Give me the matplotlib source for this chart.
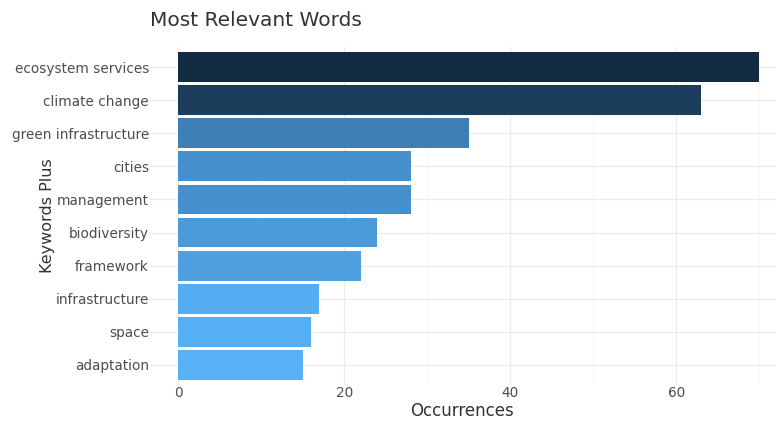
import matplotlib
matplotlib.use("Agg")
import matplotlib.pyplot as plt
import matplotlib.colors as mcolors
import numpy as np

# data
words = ["ecosystem services", "climate change", "green infrastructure", "cities",
         "management", "biodiversity", "framework", "infrastructure", "space", "adaptation"]
counts = [70, 63, 35, 28, 28, 24, 22, 17, 16, 15]
xticks = [0, 20, 40, 60]

# ggplot style gradient, dark for high values
cmap = mcolors.LinearSegmentedColormap.from_list("gg", ["#56B1F7", "#132B43"])
norm = mcolors.Normalize(vmin=min(counts), vmax=max(counts))
colors = [cmap(norm(c)) for c in counts]

plt.rcParams['font.family'] = ['DejaVu Sans']
fig = plt.figure(figsize=(7.76, 4.21), dpi=100)
ax = fig.add_axes([0.192, 0.086, 0.808, 0.802])

ypos = np.arange(len(words))[::-1] + 1
ax.barh(ypos, counts, height=0.9, color=colors, zorder=2)

ax.set_ylim(0.4, len(words) + 0.6)
ax.set_xlim(-3.5, 72.0)
ax.set_yticks(ypos)
ax.set_yticklabels(words, fontsize=9.8, color="#4d4d4d")
ax.set_xticks(xticks)
ax.set_xticklabels([str(t) for t in xticks], fontsize=9.8, color="#4d4d4d")
ax.set_xticks([10, 30, 50, 70], minor=True)

ax.grid(True, which="major", color="#ebebeb", linewidth=0.8, zorder=0)
ax.grid(True, which="minor", axis="x", color="#f4f4f4", linewidth=0.5, zorder=0)
ax.tick_params(axis="y", length=0, pad=0)
ax.tick_params(axis="x", length=0, pad=1)
ax.tick_params(which="minor", length=0)
for s in ax.spines.values():
    s.set_visible(False)

ax.set_xlabel("Occurrences", fontsize=12, color="#333333", labelpad=1)
ax.set_ylabel("Keywords Plus", fontsize=11.5, color="#333333")
ax.yaxis.set_label_coords(-0.15, 0.5)
fig.text(150 / 776, 1 - 20 / 421, "Most Relevant Words", fontsize=14.5,
         color="#333333", ha="left", va="center")

fig.savefig("out.png", dpi=100)
